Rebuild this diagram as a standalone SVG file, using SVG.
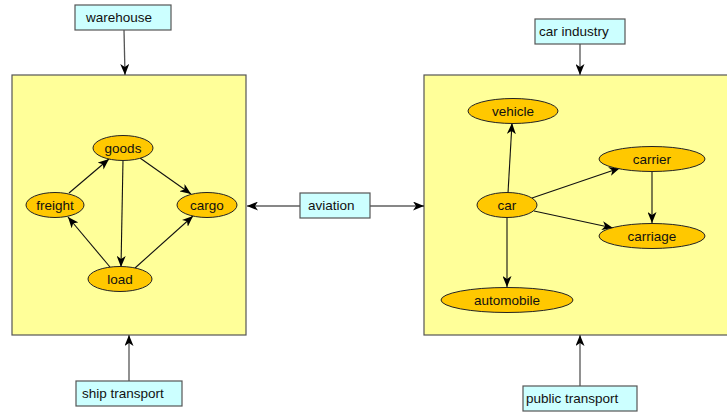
<svg xmlns="http://www.w3.org/2000/svg" width="727" height="412" viewBox="0 0 727 412">
  <style>
    .cluster { fill: #ffff99; stroke: #555555; stroke-width: 1.2; }
    .tag { fill: #ccffff; stroke: #555555; stroke-width: 1.2; }
    .term { fill: #ffc800; stroke: #222222; stroke-width: 1; }
    .lbl { font-family: "Liberation Sans", Arial, sans-serif; font-size: 13.5px; fill: #111111; }
    .mid { text-anchor: middle; }
    .edge { fill: none; stroke: #111111; stroke-width: 1.1; marker-end: url(#arrow); }
    .link { fill: none; stroke: #555555; stroke-width: 1.3; marker-end: url(#arrow); }
  </style>
  <defs>
    <marker id="arrow" viewBox="0 0 11 9" refX="11" refY="4.5" markerWidth="11" markerHeight="9" markerUnits="userSpaceOnUse" orient="auto">
      <path d="M0,0 L11,4.5 L0,9 L3,4.5 z" fill="#000000"/>
    </marker>
  </defs>

  <!-- cluster panels -->
  <g id="cluster-left"><rect class="cluster" x="12" y="75" width="234" height="260"/></g>
  <g id="cluster-right"><rect class="cluster" x="424" y="75" width="310" height="260"/></g>

  <!-- connectors -->
  <g id="connectors">
    <line class="link" x1="124" y1="30" x2="125" y2="75"/>
    <line class="link" x1="129" y1="381" x2="129" y2="335"/>
    <line class="link" x1="580" y1="44" x2="580" y2="75"/>
    <line class="link" x1="580" y1="386" x2="580" y2="335"/>
    <line class="edge" x1="300" y1="206" x2="247" y2="206"/>
    <line class="edge" x1="370" y1="206" x2="424" y2="206"/>

    <line class="edge" x1="140" y1="158" x2="191" y2="194"/>
    <line class="edge" x1="69" y1="193" x2="109" y2="159"/>
    <line class="edge" x1="123" y1="160" x2="121" y2="267"/>
    <line class="edge" x1="110" y1="267" x2="68" y2="217"/>
    <line class="edge" x1="135" y1="268" x2="193" y2="216"/>

    <line class="edge" x1="508" y1="193" x2="512" y2="123"/>
    <line class="edge" x1="532" y1="198" x2="620" y2="168"/>
    <line class="edge" x1="534" y1="211" x2="613" y2="228"/>
    <line class="edge" x1="652" y1="172" x2="652" y2="223"/>
    <line class="edge" x1="507" y1="218" x2="507" y2="287"/>
  </g>

  <!-- boxed labels -->
  <g id="warehouse"><rect class="tag" x="75" y="5" width="96" height="25"/><text class="lbl" x="86" y="22">warehouse</text></g>
  <g id="ship-transport"><rect class="tag" x="76" y="381" width="106" height="25"/><text class="lbl" x="82" y="398">ship transport</text></g>
  <g id="aviation"><rect class="tag" x="300" y="193" width="70" height="25"/><text class="lbl" x="308" y="210">aviation</text></g>
  <g id="car-industry"><rect class="tag" x="535" y="19" width="90" height="25"/><text class="lbl" x="539" y="36">car industry</text></g>
  <g id="public-transport"><rect class="tag" x="523" y="386" width="114" height="25"/><text class="lbl" x="526" y="403">public transport</text></g>

  <!-- left cluster terms -->
  <g id="goods"><ellipse class="term" cx="123" cy="148" rx="30" ry="12.5"/><text class="lbl mid" x="123" y="152.5">goods</text></g>
  <g id="freight"><ellipse class="term" cx="55" cy="205" rx="29" ry="12.5"/><text class="lbl mid" x="55" y="209.5">freight</text></g>
  <g id="cargo"><ellipse class="term" cx="207" cy="205" rx="30" ry="12.5"/><text class="lbl mid" x="207" y="209.5">cargo</text></g>
  <g id="load"><ellipse class="term" cx="120" cy="279" rx="32" ry="12.5"/><text class="lbl mid" x="120" y="283.5">load</text></g>

  <!-- right cluster terms -->
  <g id="vehicle"><ellipse class="term" cx="513" cy="111" rx="45" ry="12.5"/><text class="lbl mid" x="513" y="115.5">vehicle</text></g>
  <g id="car"><ellipse class="term" cx="507" cy="205" rx="30" ry="12.5"/><text class="lbl mid" x="507" y="209.5">car</text></g>
  <g id="carrier"><ellipse class="term" cx="652" cy="159" rx="53" ry="12.5"/><text class="lbl mid" x="652" y="163.5">carrier</text></g>
  <g id="carriage"><ellipse class="term" cx="652" cy="236" rx="53" ry="12.5"/><text class="lbl mid" x="652" y="240.5">carriage</text></g>
  <g id="automobile"><ellipse class="term" cx="507" cy="300" rx="66" ry="12.5"/><text class="lbl mid" x="507" y="304.5">automobile</text></g>
</svg>
